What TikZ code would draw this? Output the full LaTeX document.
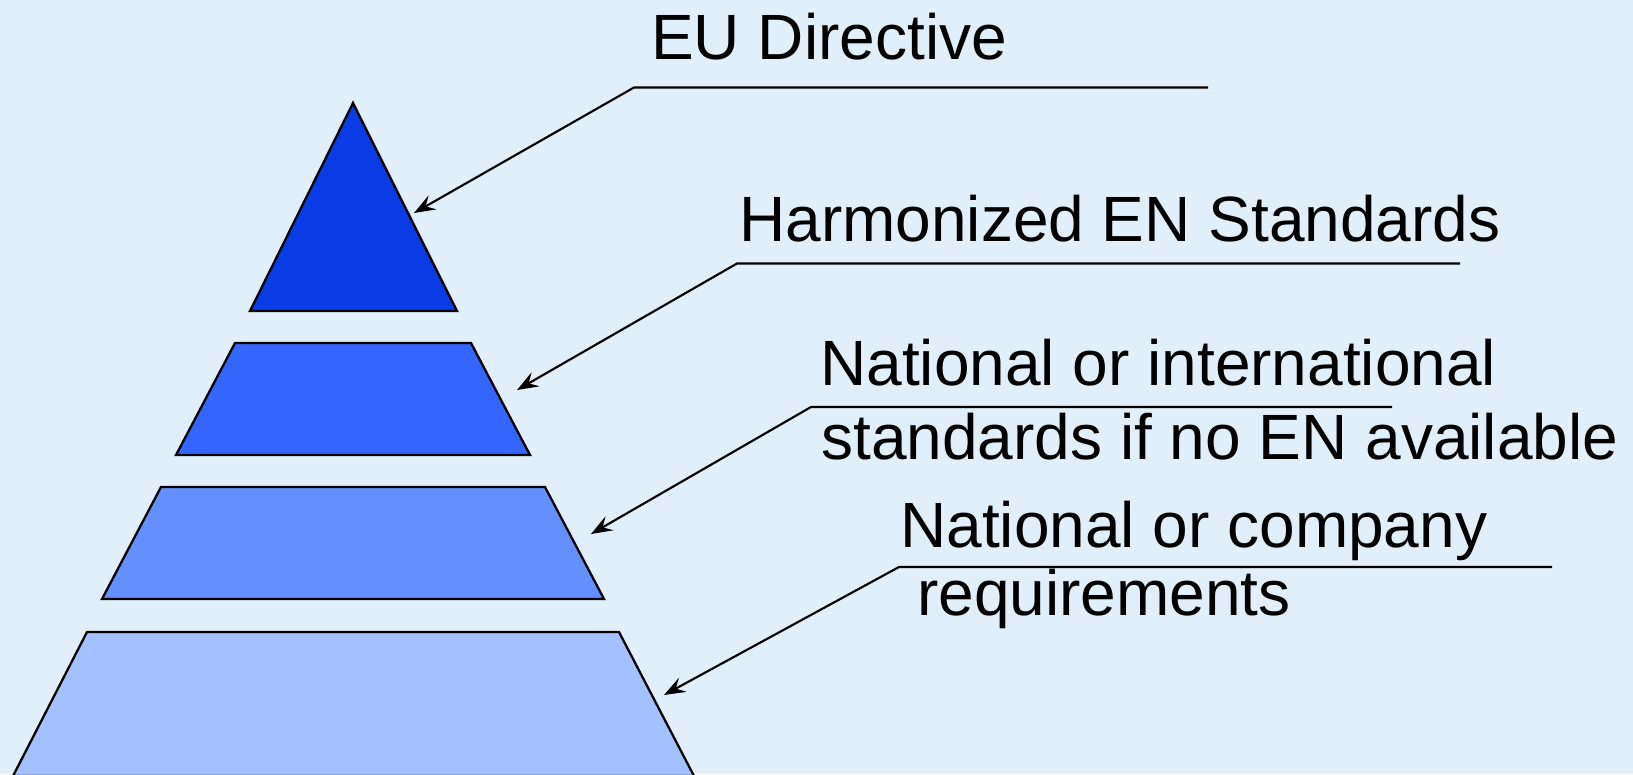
\documentclass[tikz,border=0pt]{standalone}
\usepackage{fontspec}
\setmainfont{Liberation Sans}
\usetikzlibrary{arrows.meta}
\definecolor{bgc}{HTML}{E0EFFA}
\definecolor{lvA}{HTML}{0A3CE6}
\definecolor{lvB}{HTML}{3465FC}
\definecolor{lvC}{HTML}{6490FF}
\definecolor{lvD}{HTML}{A3C1FF}
\tikzset{
  level/.style={draw=black, line width=1.7pt, line join=miter},
  conn/.style={draw=black, line width=1.6pt, -{Stealth[length=16pt,width=12pt,inset=6pt]}},
  lbl/.style={anchor=base west, inner sep=0pt, font=\fontsize{48pt}{57pt}\selectfont},
}
\begin{document}
\begin{tikzpicture}[x=0.75pt, y=-0.75pt]
\fill[bgc] (0,0) rectangle (1633,774);
\useasboundingbox (0,0) rectangle (1633,774);
% pyramid levels
\filldraw[level, fill=lvA] (353,103) -- (457,311) -- (250,311) -- cycle;
\filldraw[level, fill=lvB] (235,343) -- (471,343) -- (530,455) -- (176,455) -- cycle;
\filldraw[level, fill=lvC] (161,487) -- (545,487) -- (604,599) -- (102,599) -- cycle;
\filldraw[level, fill=lvD] (87,632) -- (619,632) -- (694,776) -- (13,776) -- cycle;
% labels
\node[lbl] (eu) at (651,60) {EU Directive};
\node[lbl] (hen) at (739,241) {Harmonized EN Standards};
\node[lbl] (ni1) at (820,385) {National or international};
\node[lbl] (ni2) at (821,459) {standards if no EN available};
\node[lbl] (nc1) at (900,547) {National or company};
\node[lbl] (nc2) at (917,615) {requirements};
% connector points
\coordinate (euE) at (1208,87.5);  \coordinate (euK) at (634,87.5);  \coordinate (euT) at (414,213);
\coordinate (henE) at (1460,263.5); \coordinate (henK) at (737,263.5); \coordinate (henT) at (517,390);
\coordinate (niE) at (1392,407);   \coordinate (niK) at (811,407);   \coordinate (niT) at (591,534);
\coordinate (ncE) at (1552,567);   \coordinate (ncK) at (899,567);   \coordinate (ncT) at (664,695);
\draw[conn] (euE) -- (euK) -- (euT);
\draw[conn] (henE) -- (henK) -- (henT);
\draw[conn] (niE) -- (niK) -- (niT);
\draw[conn] (ncE) -- (ncK) -- (ncT);
\end{tikzpicture}
\end{document}
